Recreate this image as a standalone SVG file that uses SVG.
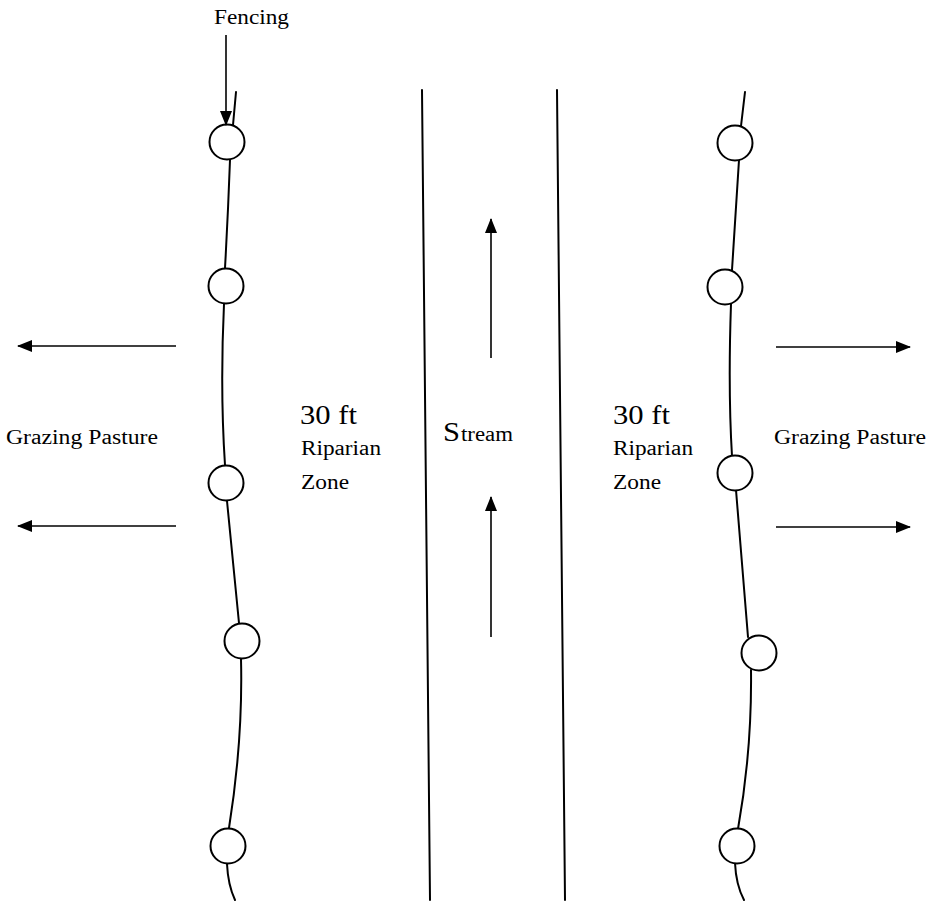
<svg xmlns="http://www.w3.org/2000/svg" width="931" height="902" viewBox="0 0 931 902">
<style>
.ln{fill:none;stroke:#000;stroke-width:2;stroke-linecap:round}
.ar{fill:none;stroke:#000;stroke-width:1.6}
.post{fill:#fff;stroke:#000;stroke-width:2}
.lab{font-family:"Liberation Serif","Times New Roman",serif;fill:#000}
.t{font-size:20px}
.b{font-size:27px}
</style>
<defs>
<marker id="ah" viewBox="0 0 15 12" refX="14" refY="6" markerWidth="15" markerHeight="12" markerUnits="userSpaceOnUse" orient="auto">
<path d="M0,0 L15,6 L0,12 Z" fill="#000"/>
</marker>
</defs>
<rect width="931" height="902" fill="#fff"/>

<g id="stream-banks">
<path class="ln" d="M422,90 L430,900"/>
<path class="ln" d="M557,90 L565,900"/>
</g>

<g id="left-fence">
<path class="ln" d="M236,92 L233,125 M230,160 Q228,215 225,268 M224,304 Q220,390 225,465 M227,501 L239,623 M241,659 Q243,740 229,828 M227,864 Q228,885 235,900"/>
<circle class="post" cx="227" cy="142" r="17.5"/>
<circle class="post" cx="226" cy="286" r="17.5"/>
<circle class="post" cx="226" cy="483" r="17.5"/>
<circle class="post" cx="242" cy="641" r="17.5"/>
<circle class="post" cx="228" cy="846" r="17.5"/>
</g>

<g id="right-fence">
<path class="ln" d="M745,92 L741,126 M739,160 L732,270 M731,304 Q728,390 732,456 M736,490 L748,637 M751,670 Q752,750 738,829 M735,863 Q736,885 744,900"/>
<circle class="post" cx="735" cy="143" r="17.5"/>
<circle class="post" cx="725" cy="287" r="17.5"/>
<circle class="post" cx="735" cy="473" r="17.5"/>
<circle class="post" cx="759" cy="653" r="17.5"/>
<circle class="post" cx="737" cy="846" r="17.5"/>
</g>

<g id="connectors">
<line class="ar" x1="226" y1="35" x2="226" y2="125" marker-end="url(#ah)"/>
<line class="ar" x1="176" y1="346" x2="18" y2="346" marker-end="url(#ah)"/>
<line class="ar" x1="176" y1="526" x2="18" y2="526" marker-end="url(#ah)"/>
<line class="ar" x1="776" y1="347" x2="910" y2="347" marker-end="url(#ah)"/>
<line class="ar" x1="776" y1="527" x2="910" y2="527" marker-end="url(#ah)"/>
<line class="ar" x1="491" y1="358" x2="491" y2="219" marker-end="url(#ah)"/>
<line class="ar" x1="491" y1="637" x2="491" y2="497" marker-end="url(#ah)"/>
</g>

<g id="labels" class="lab" font-family="Liberation Serif, Times New Roman, serif">
<text class="t" x="214" y="24" textLength="75" lengthAdjust="spacingAndGlyphs">Fencing</text>
<text class="t" x="6" y="444" textLength="152" lengthAdjust="spacingAndGlyphs">Grazing Pasture</text>
<text class="t" x="774" y="444" textLength="152" lengthAdjust="spacingAndGlyphs">Grazing Pasture</text>
<text class="b" x="300" y="424" textLength="57" lengthAdjust="spacingAndGlyphs">30 ft</text>
<text class="t" x="301" y="455" textLength="80" lengthAdjust="spacingAndGlyphs">Riparian</text>
<text class="t" x="301" y="489" textLength="48" lengthAdjust="spacingAndGlyphs">Zone</text>
<text class="b" x="613" y="424" textLength="57" lengthAdjust="spacingAndGlyphs">30 ft</text>
<text class="t" x="613" y="455" textLength="80" lengthAdjust="spacingAndGlyphs">Riparian</text>
<text class="t" x="613" y="489" textLength="48" lengthAdjust="spacingAndGlyphs">Zone</text>
<text class="b" x="443" y="441" textLength="17" lengthAdjust="spacingAndGlyphs">S</text>
<text class="t" x="461" y="441" textLength="52" lengthAdjust="spacingAndGlyphs">tream</text>
</g>
</svg>
